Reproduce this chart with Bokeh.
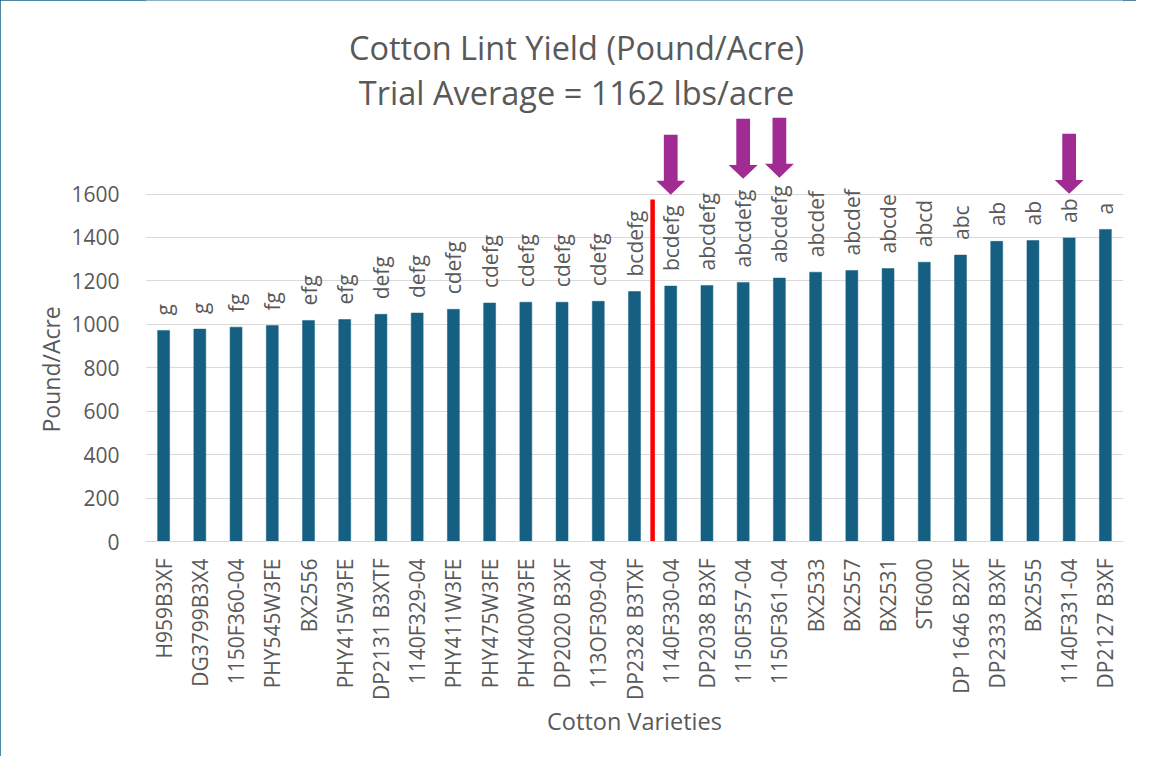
import numpy as np
from bokeh.plotting import figure
from bokeh.models import Range1d, FixedTicker, Label, Title
from bokeh.embed import file_html
from bokeh.resources import INLINE
from bokeh.core.properties import value

# ---------------- data ----------------
varieties = [
    "H959B3XF", "DG3799B3X4", "1150F360-04", "PHY545W3FE", "BX2556",
    "PHY415W3FE", "DP2131 B3XTF", "1140F329-04", "PHY411W3FE", "PHY475W3FE",
    "PHY400W3FE", "DP2020 B3XF", "113OF309-04", "DP2328 B3TXF", "1140F330-04",
    "DP2038 B3XF", "1150F357-04", "1150F361-04", "BX2533", "BX2557",
    "BX2531", "ST6000", "DP 1646 B2XF", "DP2333 B3XF", "BX2555",
    "1140F331-04", "DP2127 B3XF",
]
yields = [
    972, 978, 987, 994, 1018,
    1022, 1046, 1052, 1069, 1098,
    1102, 1102, 1106, 1151, 1176,
    1179, 1193, 1213, 1240, 1248,
    1257, 1286, 1319, 1382, 1386,
    1398, 1437,
]
letters = [
    "g", "g", "fg", "fg", "efg",
    "efg", "defg", "defg", "cdefg", "cdefg",
    "cdefg", "cdefg", "cdefg", "bcdefg", "bcdefg",
    "abcdefg", "abcdefg", "abcdefg", "abcdef", "abcdef",
    "abcde", "abcd", "abc", "ab", "ab",
    "ab", "a",
]
arrow_varieties = ["1140F330-04", "1150F357-04", "1150F361-04", "1140F331-04"]
arrow_tips = [1597, 1670, 1675, 1601]
average_split_after = "DP2328 B3TXF"
red_line_top = 1575
y_ticks = [0, 200, 400, 600, 800, 1000, 1200, 1400, 1600]

title_line1 = "Cotton Lint Yield (Pound/Acre)"
title_line2 = "Trial Average = 1162 lbs/acre"
y_title = "Pound/Acre"
x_title = "Cotton Varieties"

# ---------------- style ----------------
FONT = "Open Sans"
GRAY = "#595959"
BAR = "#156082"
PURPLE = "#A02B93"

xpos = np.arange(1, len(varieties) + 1)

p = figure(
    width=1136, height=756,
    x_range=Range1d(0.5, len(varieties) + 0.5),
    y_range=Range1d(0, 2491),
    output_backend="svg", toolbar_location=None, tools="",
    min_border_left=145, min_border_right=13,
    min_border_top=0, min_border_bottom=215,
    title=None,
)
p.outline_line_color = None
p.background_fill_color = "white"
p.border_fill_color = "white"
p.styles = {"outline": "2px solid #156082", "outline-offset": "-2px"}

# grid
p.xgrid.grid_line_color = None
p.ygrid.ticker = FixedTicker(ticks=y_ticks)
p.ygrid.grid_line_color = "#D9D9D9"
p.ygrid.grid_line_width = 1.2

# y axis
p.yaxis.ticker = FixedTicker(ticks=y_ticks)
p.yaxis.axis_line_color = None
p.yaxis.major_tick_line_color = None
p.yaxis.minor_tick_line_color = None
p.yaxis.major_label_standoff = 20
p.yaxis.major_label_text_font = FONT
p.yaxis.major_label_text_font_size = "21px"
p.yaxis.major_label_text_color = GRAY

# x axis
p.xaxis.ticker = FixedTicker(ticks=list(xpos))
p.xaxis.major_label_overrides = {int(i): v for i, v in zip(xpos, varieties)}
p.xaxis.major_label_orientation = np.pi / 2
p.xaxis.axis_line_color = "#D9D9D9"
p.xaxis.axis_line_width = 1.2
p.xaxis.major_tick_line_color = None
p.xaxis.minor_tick_line_color = None
p.xaxis.major_label_standoff = 11
p.xaxis.major_label_text_font = FONT
p.xaxis.major_label_text_font_size = "21px"
p.xaxis.major_label_text_color = GRAY
p.xaxis.axis_label = x_title
p.xaxis.axis_label_text_font = FONT
p.xaxis.axis_label_text_font_size = "23.5px"
p.xaxis.axis_label_text_font_style = "normal"
p.xaxis.axis_label_text_color = GRAY
p.xaxis.axis_label_standoff = 2

# bars
p.vbar(x=xpos, top=yields, width=0.33, fill_color=BAR, line_color=BAR, line_width=0.5)

# significance letters
p.text(x=xpos, y=yields, text=letters, angle=np.pi / 2, y_offset=-15,
       text_align="left", text_baseline="middle",
       text_font=value(FONT), text_font_size="21px", text_color=GRAY)

# red separator line
split_x = varieties.index(average_split_after) + 1 + 0.5
p.segment(x0=[split_x], y0=[0], x1=[split_x], y1=[red_line_top],
          line_color="#FF0000", line_width=4.5)

# arrows
HEAD_LEN, TOTAL_LEN, SHAFT_HW, HEAD_HW = 64, 276, 0.19, 0.40
axs, ays = [], []
for v, tip in zip(arrow_varieties, arrow_tips):
    cx = varieties.index(v) + 1
    base = tip + HEAD_LEN
    top = tip + TOTAL_LEN
    axs.append([cx - SHAFT_HW, cx + SHAFT_HW, cx + SHAFT_HW, cx + HEAD_HW, cx,
                cx - HEAD_HW, cx - SHAFT_HW])
    ays.append([top, top, base, base, tip, base, base])
p.patches(axs, ays, fill_color=PURPLE, line_color=None)

# chart titles (screen units relative to the frame)
p.add_layout(Label(x=431, y=494, x_units="screen", y_units="screen", text=title_line1,
                   text_align="center", text_baseline="alphabetic",
                   text_font=FONT, text_font_size="32.5px", text_color=GRAY))
p.add_layout(Label(x=431, y=449, x_units="screen", y_units="screen", text=title_line2,
                   text_align="center", text_baseline="alphabetic",
                   text_font=FONT, text_font_size="32.5px", text_color=GRAY))

# y axis title in the left panel
p.add_layout(Title(text=y_title, align="left", offset=109,
                   text_font=FONT, text_font_size="23px", text_font_style="normal",
                   text_color=GRAY, standoff=4), "left")

open("out.html", "w").write(file_html(p, INLINE))
